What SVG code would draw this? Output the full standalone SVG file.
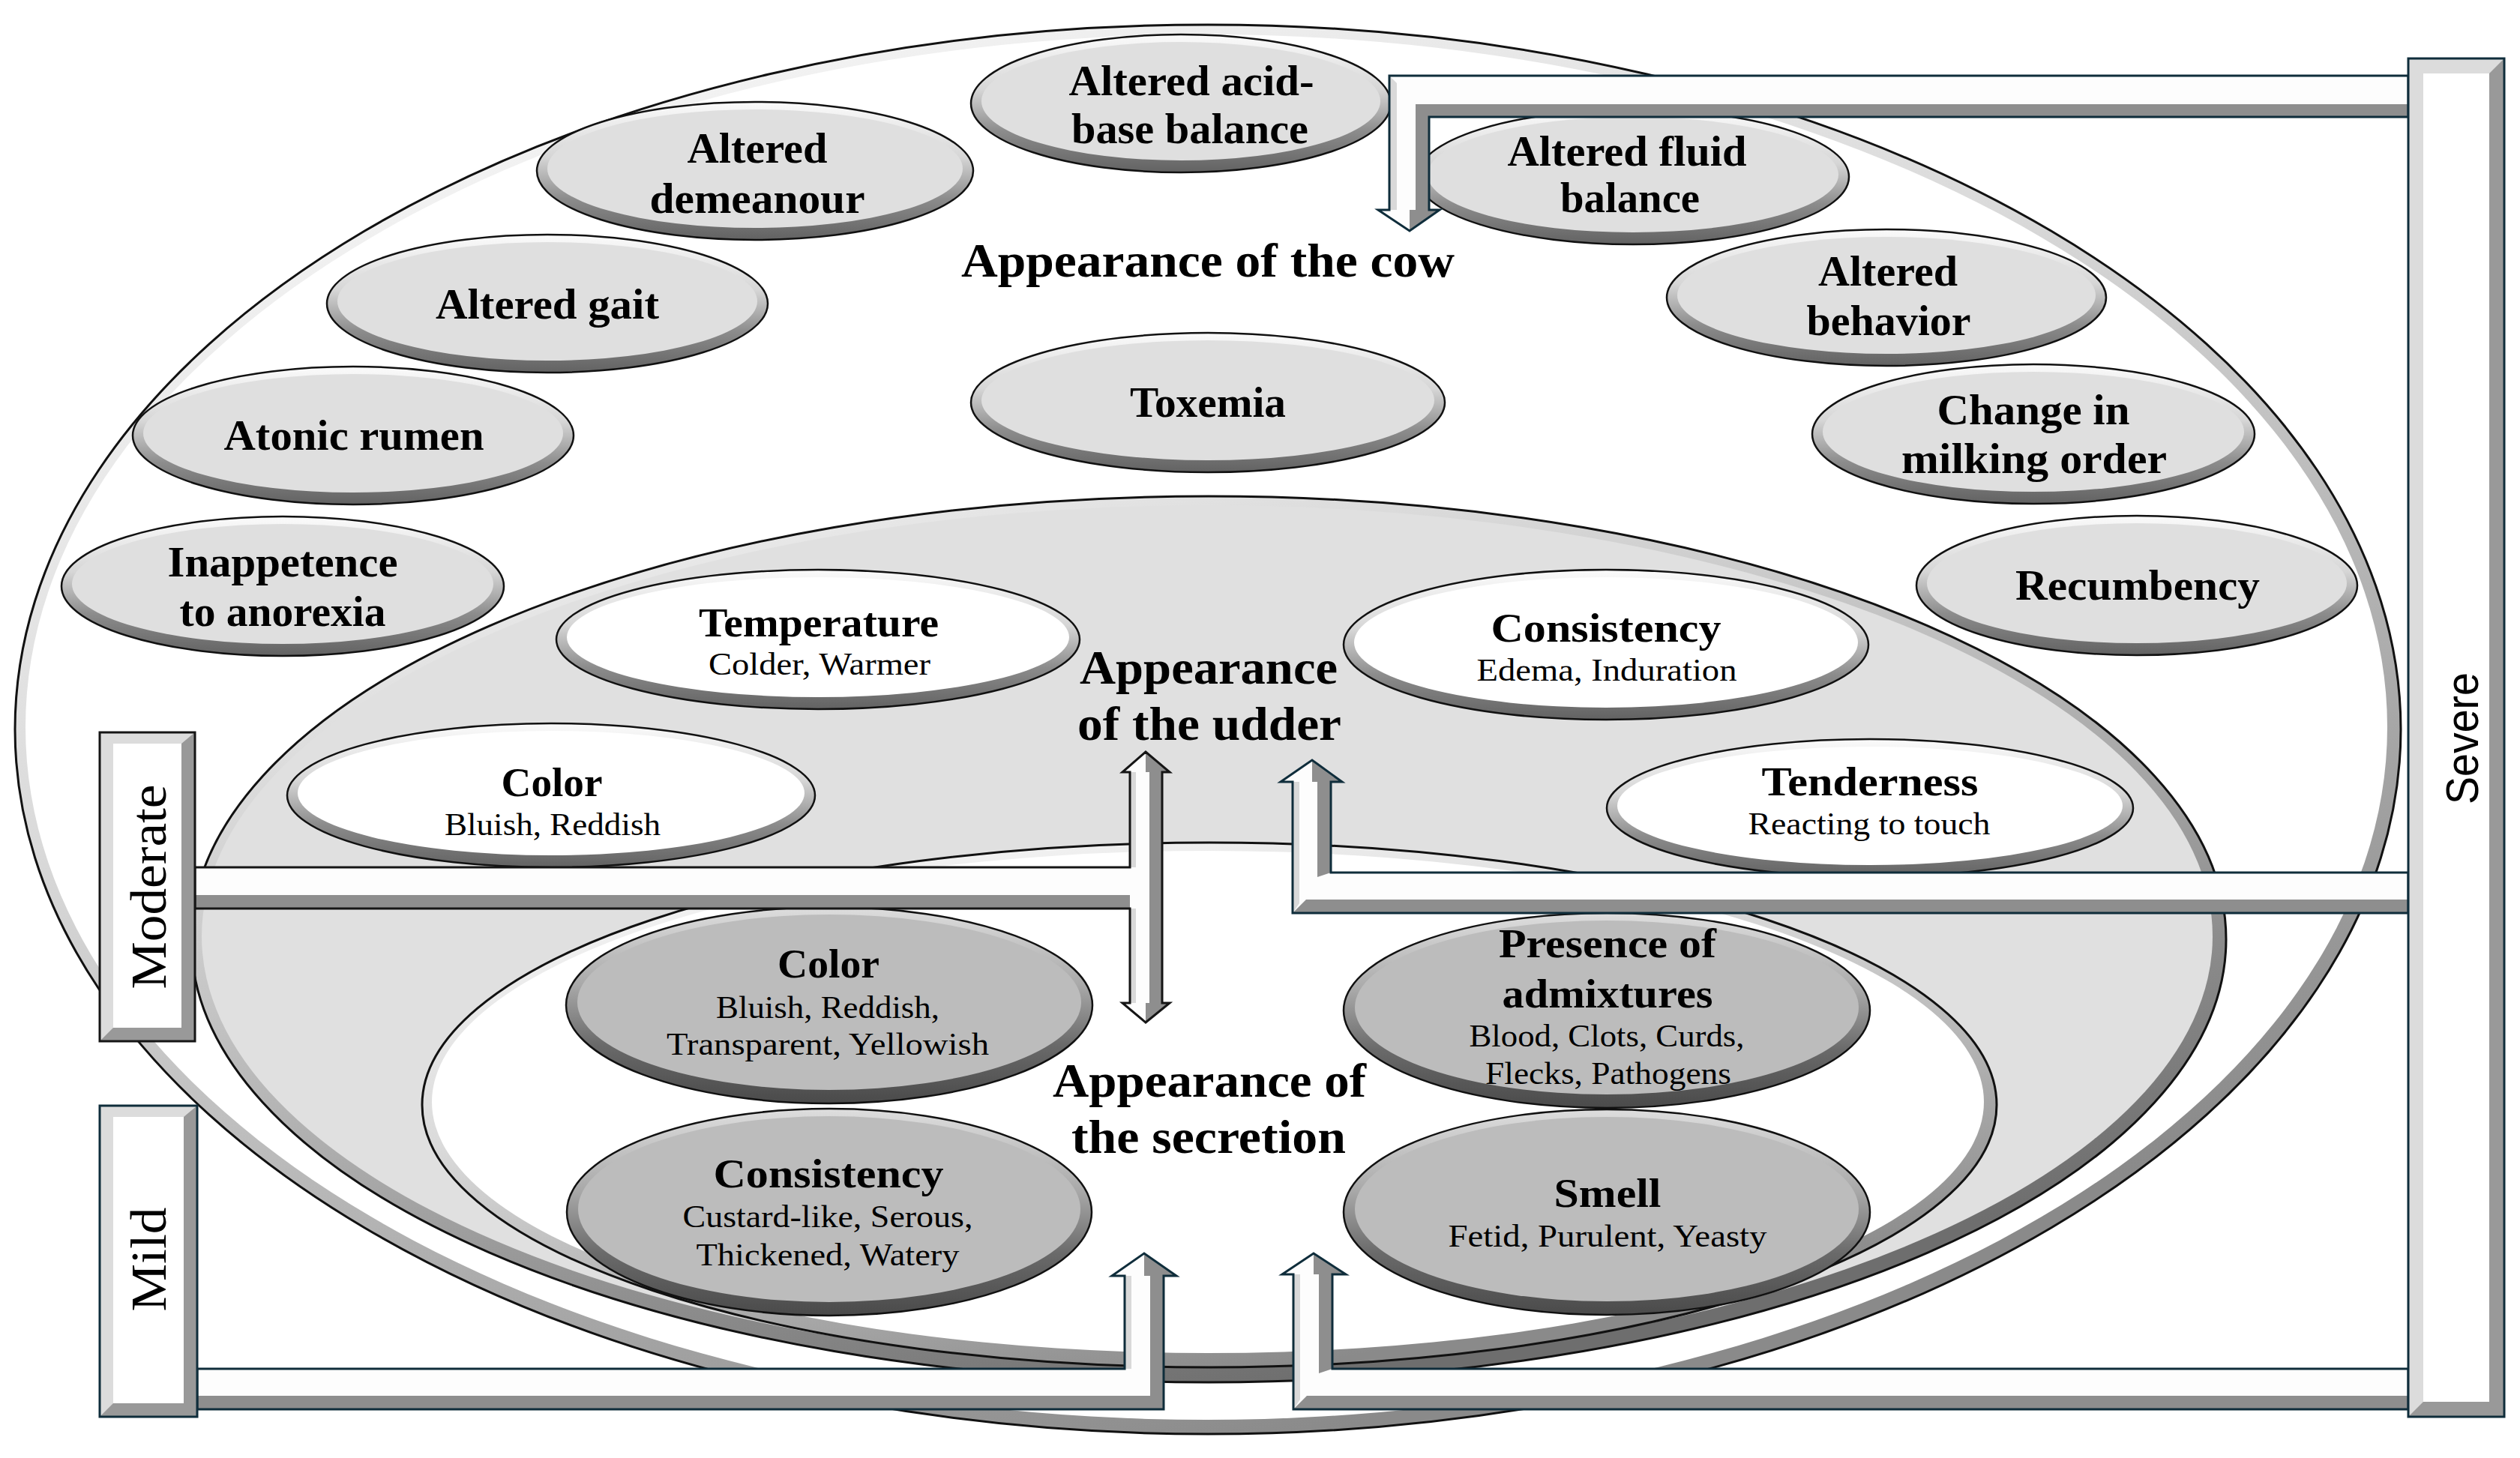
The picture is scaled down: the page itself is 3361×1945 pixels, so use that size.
<svg xmlns="http://www.w3.org/2000/svg" width="3361" height="1945" viewBox="0 0 3361 1945">
<defs>
<linearGradient id="gBig" x1="0" y1="0" x2="0.55" y2="1">
<stop offset="0" stop-color="#ffffff"/><stop offset="0.45" stop-color="#dadada"/><stop offset="1" stop-color="#8a8a8a"/>
</linearGradient>
<linearGradient id="gUd" x1="0" y1="0" x2="0.55" y2="1">
<stop offset="0" stop-color="#fbfbfb"/><stop offset="0.45" stop-color="#c4c4c4"/><stop offset="1" stop-color="#6e6e6e"/>
</linearGradient>
<linearGradient id="gNL" x1="0" y1="0" x2="0" y2="1">
<stop offset="0" stop-color="#fbfbfb"/><stop offset="0.4" stop-color="#d6d6d6"/><stop offset="0.7" stop-color="#8c8c8c"/><stop offset="1" stop-color="#626262"/>
</linearGradient>
<linearGradient id="gND" x1="0" y1="0" x2="0" y2="1">
<stop offset="0" stop-color="#dedede"/><stop offset="0.4" stop-color="#a8a8a8"/><stop offset="0.7" stop-color="#6a6a6a"/><stop offset="1" stop-color="#4a4a4a"/>
</linearGradient>
<style>
.bb{stroke:#111;stroke-width:3}
.bn{fill:url(#gNL);stroke:#111;stroke-width:2.5}
.bd{fill:url(#gND);stroke:#111;stroke-width:2.5}
.fg{fill:#dfdfdf}
.fw{fill:#ffffff}
.fd{fill:#bcbcbc}
.t1{font-family:"Liberation Serif",serif;font-weight:bold;font-size:64px;text-anchor:middle;fill:#000}
.nl{font-family:"Liberation Serif",serif;font-weight:bold;font-size:56px;text-anchor:middle;fill:#000}
.nt{font-family:"Liberation Serif",serif;font-weight:bold;font-size:54px;text-anchor:middle;fill:#000}
.ns{font-family:"Liberation Serif",serif;font-size:42px;text-anchor:middle;fill:#000}
.lv{font-family:"Liberation Serif",serif;font-size:68px;text-anchor:middle;fill:#000}
.sv{font-family:"Liberation Sans",sans-serif;font-size:62px;text-anchor:middle;fill:#000}
.cw{fill:#fdfdfd}
.cg{fill:#8e8e8e}
.cl{fill:#d9d9d9}
.co{fill:none;stroke:#0f2d3b;stroke-width:3;stroke-linejoin:miter}
.cm{fill:none;stroke:#151515;stroke-width:3;stroke-linejoin:miter}
.bar1{fill:#999999}
.bar2{fill:#dcdcdc}
</style>
</defs>
<rect x="0" y="0" width="3361" height="1945" fill="#ffffff"/>

<g id="cow-area">
<ellipse cx="1611" cy="973" rx="1591" ry="940" fill="url(#gBig)" class="bb"/>
<ellipse cx="1609" cy="970" rx="1575" ry="924" fill="#ffffff"/>
<text class="t1" x="1611" y="369" textLength="658" lengthAdjust="spacingAndGlyphs">Appearance of the cow</text>
</g>

<g id="n-acid-base">
<ellipse cx="1575" cy="138" rx="280" ry="92" class="bn"/>
<ellipse cx="1575" cy="135" rx="266" ry="79" class="fg"/>
<text class="nl" x="1589" y="127" textLength="327" lengthAdjust="spacingAndGlyphs">Altered acid-</text>
<text class="nl" x="1587" y="191" textLength="316" lengthAdjust="spacingAndGlyphs">base balance</text>
</g>
<g id="n-fluid">
<ellipse cx="2178" cy="236" rx="288" ry="90" class="bn"/>
<ellipse cx="2178" cy="233" rx="274" ry="77" class="fg"/>
<text class="nl" x="2170" y="221" textLength="319" lengthAdjust="spacingAndGlyphs">Altered fluid</text>
<text class="nl" x="2174" y="283" textLength="186" lengthAdjust="spacingAndGlyphs">balance</text>
</g>
<g id="n-demeanour">
<ellipse cx="1007" cy="228" rx="291" ry="92" class="bn"/>
<ellipse cx="1007" cy="225" rx="277" ry="79" class="fg"/>
<text class="nl" x="1010" y="217" textLength="187" lengthAdjust="spacingAndGlyphs">Altered</text>
<text class="nl" x="1010" y="284" textLength="287" lengthAdjust="spacingAndGlyphs">demeanour</text>
</g>
<g id="n-gait">
<ellipse cx="730" cy="405" rx="294" ry="92" class="bn"/>
<ellipse cx="730" cy="402" rx="280" ry="79" class="fg"/>
<text class="nl" x="730" y="425" textLength="298" lengthAdjust="spacingAndGlyphs">Altered gait</text>
</g>
<g id="n-rumen">
<ellipse cx="471" cy="581" rx="294" ry="92" class="bn"/>
<ellipse cx="471" cy="578" rx="280" ry="79" class="fg"/>
<text class="nl" x="472" y="600" textLength="347" lengthAdjust="spacingAndGlyphs">Atonic rumen</text>
</g>
<g id="n-inappetence">
<ellipse cx="377" cy="782" rx="295" ry="93" class="bn"/>
<ellipse cx="377" cy="779" rx="281" ry="80" class="fg"/>
<text class="nl" x="377" y="769" textLength="307" lengthAdjust="spacingAndGlyphs">Inappetence</text>
<text class="nl" x="377" y="835" textLength="275" lengthAdjust="spacingAndGlyphs">to anorexia</text>
</g>
<g id="n-toxemia">
<ellipse cx="1611" cy="537" rx="316" ry="93" class="bn"/>
<ellipse cx="1611" cy="534" rx="302" ry="80" class="fg"/>
<text class="nl" x="1611" y="556" textLength="208" lengthAdjust="spacingAndGlyphs">Toxemia</text>
</g>
<g id="n-behavior">
<ellipse cx="2516" cy="397" rx="293" ry="91" class="bn"/>
<ellipse cx="2516" cy="394" rx="279" ry="78" class="fg"/>
<text class="nl" x="2518" y="381" textLength="186" lengthAdjust="spacingAndGlyphs">Altered</text>
<text class="nl" x="2519" y="447" textLength="219" lengthAdjust="spacingAndGlyphs">behavior</text>
</g>
<g id="n-milking">
<ellipse cx="2712" cy="579" rx="295" ry="93" class="bn"/>
<ellipse cx="2712" cy="576" rx="281" ry="80" class="fg"/>
<text class="nl" x="2712" y="566" textLength="257" lengthAdjust="spacingAndGlyphs">Change in</text>
<text class="nl" x="2713" y="631" textLength="354" lengthAdjust="spacingAndGlyphs">milking order</text>
</g>
<g id="n-recumbency">
<ellipse cx="2850" cy="781" rx="294" ry="93" class="bn"/>
<ellipse cx="2850" cy="778" rx="280" ry="80" class="fg"/>
<text class="nl" x="2851" y="800" textLength="326" lengthAdjust="spacingAndGlyphs">Recumbency</text>
</g>

<g id="udder-area">
<ellipse cx="1612" cy="1253" rx="1357" ry="591" fill="url(#gUd)" class="bb"/>
<ellipse cx="1610" cy="1249" rx="1341" ry="575" fill="#e0e0e0"/>
<text class="t1" x="1612" y="912" textLength="344" lengthAdjust="spacingAndGlyphs">Appearance</text>
<text class="t1" x="1613" y="987" textLength="352" lengthAdjust="spacingAndGlyphs">of the udder</text>
</g>
<g id="n-temperature">
<ellipse cx="1091" cy="853" rx="349" ry="93" class="bn"/>
<ellipse cx="1091" cy="850" rx="335" ry="80" class="fw"/>
<text class="nt" x="1092" y="849" textLength="320" lengthAdjust="spacingAndGlyphs">Temperature</text>
<text class="ns" x="1093" y="900" textLength="296" lengthAdjust="spacingAndGlyphs">Colder, Warmer</text>
</g>
<g id="n-udder-consistency">
<ellipse cx="2142" cy="860" rx="350" ry="100" class="bn"/>
<ellipse cx="2142" cy="857" rx="336" ry="87" class="fw"/>
<text class="nt" x="2142" y="856" textLength="307" lengthAdjust="spacingAndGlyphs">Consistency</text>
<text class="ns" x="2143" y="908" textLength="347" lengthAdjust="spacingAndGlyphs">Edema, Induration</text>
</g>
<g id="n-udder-color">
<ellipse cx="735" cy="1061" rx="352" ry="96" class="bn"/>
<ellipse cx="735" cy="1058" rx="338" ry="83" class="fw"/>
<text class="nt" x="736" y="1062" textLength="135" lengthAdjust="spacingAndGlyphs">Color</text>
<text class="ns" x="737" y="1114" textLength="288" lengthAdjust="spacingAndGlyphs">Bluish, Reddish</text>
</g>
<g id="n-tenderness">
<ellipse cx="2494" cy="1078" rx="351" ry="92" class="bn"/>
<ellipse cx="2494" cy="1075" rx="337" ry="79" class="fw"/>
<text class="nt" x="2494" y="1061" textLength="289" lengthAdjust="spacingAndGlyphs">Tenderness</text>
<text class="ns" x="2493" y="1113" textLength="323" lengthAdjust="spacingAndGlyphs">Reacting to touch</text>
</g>

<g id="secretion-area">
<ellipse cx="1613" cy="1474" rx="1050" ry="350" fill="url(#gBig)" class="bb"/>
<ellipse cx="1611" cy="1470" rx="1035" ry="335" fill="#ffffff"/>
<text class="t1" x="1613" y="1463" textLength="418" lengthAdjust="spacingAndGlyphs">Appearance of</text>
<text class="t1" x="1612" y="1538" textLength="366" lengthAdjust="spacingAndGlyphs">the secretion</text>
</g>
<g id="n-sec-color">
<ellipse cx="1106" cy="1341" rx="351" ry="131" class="bd"/>
<ellipse cx="1106" cy="1337" rx="336" ry="117" class="fd"/>
<text class="nt" x="1105" y="1304" textLength="136" lengthAdjust="spacingAndGlyphs">Color</text>
<text class="ns" x="1104" y="1358" textLength="298" lengthAdjust="spacingAndGlyphs">Bluish, Reddish,</text>
<text class="ns" x="1104" y="1407" textLength="430" lengthAdjust="spacingAndGlyphs">Transparent, Yellowish</text>
</g>
<g id="n-sec-consistency">
<ellipse cx="1106" cy="1617" rx="350" ry="138" class="bd"/>
<ellipse cx="1106" cy="1613" rx="335" ry="124" class="fd"/>
<text class="nt" x="1105" y="1584" textLength="307" lengthAdjust="spacingAndGlyphs">Consistency</text>
<text class="ns" x="1104" y="1637" textLength="387" lengthAdjust="spacingAndGlyphs">Custard-like, Serous,</text>
<text class="ns" x="1104" y="1688" textLength="351" lengthAdjust="spacingAndGlyphs">Thickened, Watery</text>
</g>
<g id="n-admixtures">
<ellipse cx="2143" cy="1348" rx="351" ry="130" class="bd"/>
<ellipse cx="2143" cy="1344" rx="336" ry="116" class="fd"/>
<text class="nt" x="2144" y="1277" textLength="290" lengthAdjust="spacingAndGlyphs">Presence of</text>
<text class="nt" x="2144" y="1344" textLength="281" lengthAdjust="spacingAndGlyphs">admixtures</text>
<text class="ns" x="2143" y="1396" textLength="367" lengthAdjust="spacingAndGlyphs">Blood, Clots, Curds,</text>
<text class="ns" x="2145" y="1446" textLength="328" lengthAdjust="spacingAndGlyphs">Flecks, Pathogens</text>
</g>
<g id="n-smell">
<ellipse cx="2143" cy="1617" rx="351" ry="137" class="bd"/>
<ellipse cx="2143" cy="1613" rx="336" ry="123" class="fd"/>
<text class="nt" x="2144" y="1610" textLength="143" lengthAdjust="spacingAndGlyphs">Smell</text>
<text class="ns" x="2144" y="1663" textLength="425" lengthAdjust="spacingAndGlyphs">Fetid, Purulent, Yeasty</text>
</g>

<g id="connectors">
<g id="c-severe-cow">
<polygon class="cw" points="3212,101 1853,101 1853,280 1838,280 1880,308 1920,280 1906,280 1906,156 3212,156"/>
<polygon class="cl" points="1853,101 1863,111 1863,280 1853,280"/>
<polygon class="cg" points="3212,139 1888,139 1888,280 1906,280 1906,156 3212,156"/>
<polygon class="cg" points="1880,280 1920,280 1880,308"/>
<polygon class="co" points="3212,101 1853,101 1853,280 1838,280 1880,308 1920,280 1906,280 1906,156 3212,156"/>
</g>
<g id="c-severe-udder">
<polygon class="cw" points="3212,1164 1775,1164 1775,1043 1790,1043 1750,1014 1708,1043 1724,1043 1724,1218 3212,1218"/>
<polygon class="cl" points="1724,1043 1733,1043 1733,1205 1724,1218"/>
<polygon class="cg" points="1724,1218 3212,1218 3212,1200 1742,1200"/>
<polygon class="cg" points="1757,1043 1775,1043 1775,1164 1757,1170"/>
<polygon class="cg" points="1750,1014 1790,1043 1750,1043"/>
<polygon class="co" points="3212,1164 1775,1164 1775,1043 1790,1043 1750,1014 1708,1043 1724,1043 1724,1218 3212,1218"/>
</g>
<g id="c-severe-secretion">
<polygon class="cw" points="3212,1826 1777,1826 1777,1700 1795,1700 1752,1672 1710,1700 1725,1700 1725,1880 3212,1880"/>
<polygon class="cl" points="1725,1700 1734,1700 1734,1867 1725,1880"/>
<polygon class="cg" points="1725,1880 3212,1880 3212,1862 1743,1862"/>
<polygon class="cg" points="1759,1700 1777,1700 1777,1826 1759,1832"/>
<polygon class="cg" points="1752,1672 1795,1700 1752,1700"/>
<polygon class="co" points="3212,1826 1777,1826 1777,1700 1795,1700 1752,1672 1710,1700 1725,1700 1725,1880 3212,1880"/>
</g>
<g id="c-mild-secretion">
<polygon class="cw" points="263,1826 1500,1826 1500,1702 1483,1702 1526,1672 1569,1702 1552,1702 1552,1880 263,1880"/>
<polygon class="cl" points="1500,1702 1509,1702 1509,1826 1500,1826"/>
<polygon class="cg" points="263,1862 1534,1862 1534,1702 1552,1702 1552,1880 263,1880"/>
<polygon class="cg" points="1526,1672 1569,1702 1526,1702"/>
<polygon class="co" points="263,1826 1500,1826 1500,1702 1483,1702 1526,1672 1569,1702 1552,1702 1552,1880 263,1880"/>
</g>
<g id="c-moderate">
<polygon class="cw" points="260,1157 1507,1157 1507,1030 1497,1030 1528,1003 1560,1030 1550,1030 1550,1338 1560,1338 1528,1364 1497,1338 1507,1338 1507,1212 260,1212"/>
<polygon class="cl" points="1507,1030 1515,1030 1515,1157 1507,1157"/>
<polygon class="cl" points="1507,1212 1515,1212 1515,1338 1507,1338"/>
<polygon class="cg" points="260,1194 1507,1194 1507,1212 260,1212"/>
<polygon class="cg" points="1533,1030 1550,1030 1550,1338 1533,1338"/>
<polygon class="cg" points="1528,1003 1560,1030 1528,1030"/>
<polygon class="cg" points="1528,1364 1560,1338 1528,1338"/>
<polygon class="cm" points="260,1157 1507,1157 1507,1030 1497,1030 1528,1003 1560,1030 1550,1030 1550,1338 1560,1338 1528,1364 1497,1338 1507,1338 1507,1212 260,1212"/>
</g>
</g>

<g id="lvl-severe">
<rect x="3212" y="78" width="128" height="1812" class="bar1"/>
<polygon class="bar2" points="3212,78 3340,78 3320,98 3232,98 3232,1870 3212,1890"/>
<rect x="3232" y="98" width="88" height="1772" fill="#ffffff"/>
<rect x="3212" y="78" width="128" height="1812" class="co"/>
<text class="sv" transform="translate(3305,985) rotate(-90)" x="0" y="0" textLength="176" lengthAdjust="spacingAndGlyphs">Severe</text>
</g>
<g id="lvl-moderate">
<rect x="133" y="977" width="127" height="412" class="bar1"/>
<polygon class="bar2" points="133,977 260,977 242,992 151,992 151,1371 133,1389"/>
<rect x="151" y="992" width="91" height="379" fill="#ffffff"/>
<rect x="133" y="977" width="127" height="412" class="cm"/>
<text class="lv" transform="translate(221,1183) rotate(-90)" x="0" y="0" textLength="273" lengthAdjust="spacingAndGlyphs">Moderate</text>
</g>
<g id="lvl-mild">
<rect x="133" y="1475" width="130" height="415" class="bar1"/>
<polygon class="bar2" points="133,1475 263,1475 245,1490 151,1490 151,1872 133,1890"/>
<rect x="151" y="1490" width="94" height="382" fill="#ffffff"/>
<rect x="133" y="1475" width="130" height="415" class="co"/>
<text class="lv" transform="translate(221,1680) rotate(-90)" x="0" y="0" textLength="139" lengthAdjust="spacingAndGlyphs">Mild</text>
</g>
</svg>
